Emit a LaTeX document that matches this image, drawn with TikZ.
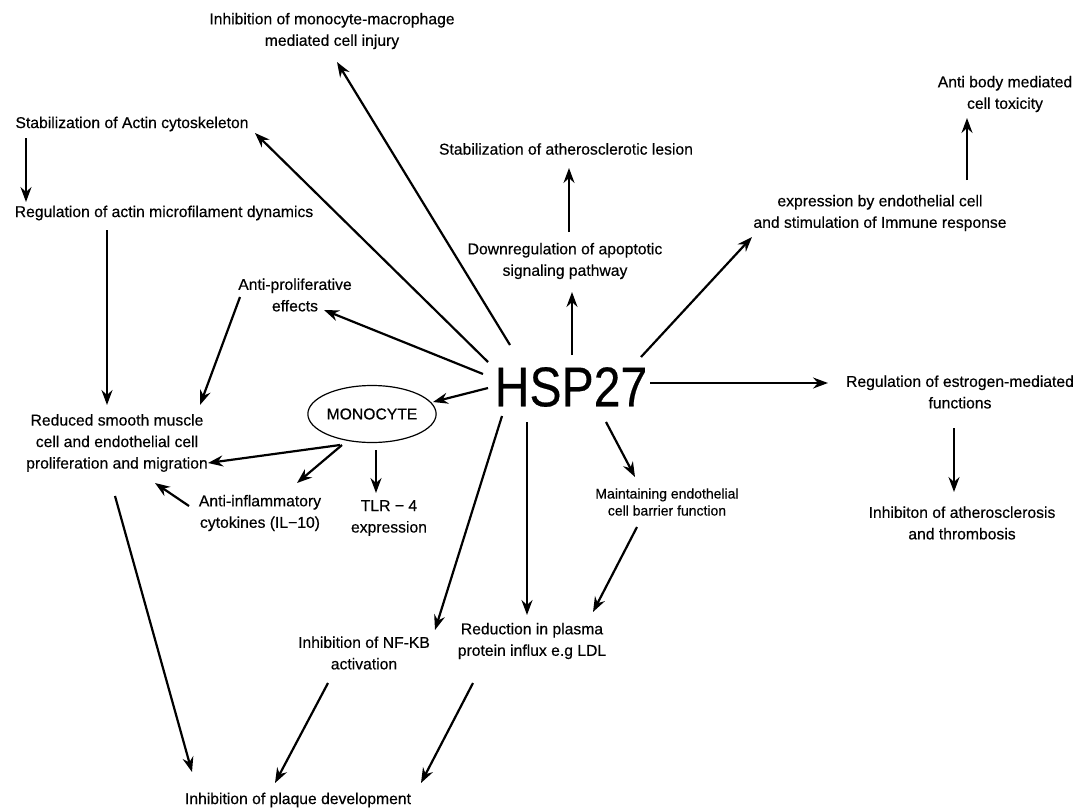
\documentclass[tikz,border=0pt]{standalone}
\usepackage{fontspec}
\usepackage{graphicx}
\setmainfont{Liberation Sans}[FakeBold=0.35]
\usetikzlibrary{arrows.meta,calc,shapes.geometric}
\begin{document}
\begin{tikzpicture}[x=1pt,y=-1pt,
  lbl/.style={font=\fontsize{15.7}{21.5}\selectfont, align=center, inner sep=0pt},
  small/.style={font=\fontsize{14}{17}\selectfont, align=center, inner sep=0pt},
  arr/.style={line width=2.2pt, -{Stealth[length=15pt,width=11pt,inset=5pt]}}]
\useasboundingbox (0,0) rectangle (1079,809);
\fill[white] (0,0) rectangle (1079,809);

% nodes
\node[inner sep=0pt, font=\fontsize{56}{60}\selectfont] (hsp) at (571,387) {\scalebox{0.86}[1]{HSP27}};
\node[lbl] (mmi) at (332,31) {Inhibition of monocyte-macrophage\\mediated cell injury};
\node[lbl] (actin) at (132,124) {Stabilization of Actin cytoskeleton};
\node[lbl] (regact) at (164,213) {Regulation of actin microfilament dynamics};
\node[lbl] (lesion) at (566,149) {Stabilization of atherosclerotic lesion};
\node[lbl] (apopt) at (565,261) {Downregulation of apoptotic\\signaling pathway};
\node[lbl] (antiprol) at (295,295) {Anti-proliferative\\effects};
\node[lbl] (antibody) at (1005,94) {Anti body mediated\\cell toxicity};
\node[lbl] (expr) at (880,213) {expression by endothelial cell\\and stimulation of Immune response};
\node[lbl] (estro) at (960,392) {Regulation of estrogen-mediated\\functions};
\node[lbl] (athero) at (962,523) {Inhibiton of atherosclerosis\\and thrombosis};
\node[lbl] (reduced) at (117,443) {Reduced smooth muscle\\cell and endothelial cell\\proliferation and migration};
\node[lbl] (antiinf) at (260,513) {Anti-inflammatory\\cytokines (IL−10)};
\node[lbl] (tlr) at (389,518) {TLR − 4\\expression};
\node[small] (maint) at (667,502) {Maintaining endothelial\\cell barrier function};
\node[lbl] (nfkb) at (364,653) {Inhibition of NF-KB\\activation};
\node[lbl] (plasma) at (532,641) {Reduction in plasma\\protein influx e.g LDL};
\node[lbl] (plaque) at (298,800) {Inhibition of plaque development};
\node[draw, ellipse, line width=1.2pt, minimum width=123pt, minimum height=57pt,
      font=\fontsize{15.7}{21.5}\selectfont, inner sep=0pt] (mono) at (372,414) {MONOCYTE};

% connectors
\draw[arr] ($(hsp)+(-61,-42)$) -- ($(mmi)+(5,31)$);
\draw[arr] ($(hsp)+(-83,-25)$) -- ($(actin)+(123,9)$);
\draw[arr] ($(hsp)+(-88,-13)$) -- ($(antiprol)+(29,15)$);
\draw[arr] ($(hsp)+(1,-32)$) -- ($(apopt)+(7,31)$);
\draw[arr] ($(apopt)+(4,-29)$) -- ($(lesion)+(3,19)$);
\draw[arr] ($(hsp)+(70,-30)$) -- ($(expr)+(-128,24)$);
\draw[arr] ($(expr)+(87,-33)$) -- ($(antibody)+(-38,24)$);
\draw[arr] ($(hsp)+(79,-4)$) -- ($(estro)+(-132,-9)$);
\draw[arr] ($(estro)+(-6,36)$) -- ($(athero)+(-8,-31)$);
\draw[arr] ($(hsp)+(-83,1)$) -- ($(mono)+(61,-12)$);
\draw[arr] ($(hsp)+(35,35)$) -- ($(maint)+(-32,-25)$);
\draw[arr] ($(hsp)+(-44,35)$) -- ($(plasma)+(-5,-26)$);
\draw[arr] ($(hsp)+(-69,29)$) -- ($(nfkb)+(71,-23)$);
\draw[arr] ($(maint)+(-30,25)$) -- ($(plasma)+(61,-29)$);
\draw[arr] ($(nfkb)+(-36,30)$) -- ($(plaque)+(-23,-17)$);
\draw[arr] ($(plasma)+(-59,42)$) -- ($(plaque)+(123,-17)$);
\draw[arr] ($(reduced)+(-2,53)$) -- ($(plaque)+(-106,-28)$);
\draw[arr] ($(actin)+(-106,14)$) -- ($(regact)+(-138,-11)$);
\draw[arr] ($(regact)+(-57,17)$) -- ($(reduced)+(-10,-38)$);
\draw[arr] ($(antiprol)+(-55,2)$) -- ($(reduced)+(83,-38)$);
\draw[arr] ($(mono)+(-32,31)$) -- ($(reduced)+(91,20)$);
\draw[arr] ($(mono)+(-30,31)$) -- ($(antiinf)+(37,-30)$);
\draw[arr] ($(mono)+(4,36)$) -- ($(tlr)+(-13,-25)$);
\draw[arr] ($(antiinf)+(-71,-7)$) -- ($(reduced)+(38,40)$);
\end{tikzpicture}
\end{document}
